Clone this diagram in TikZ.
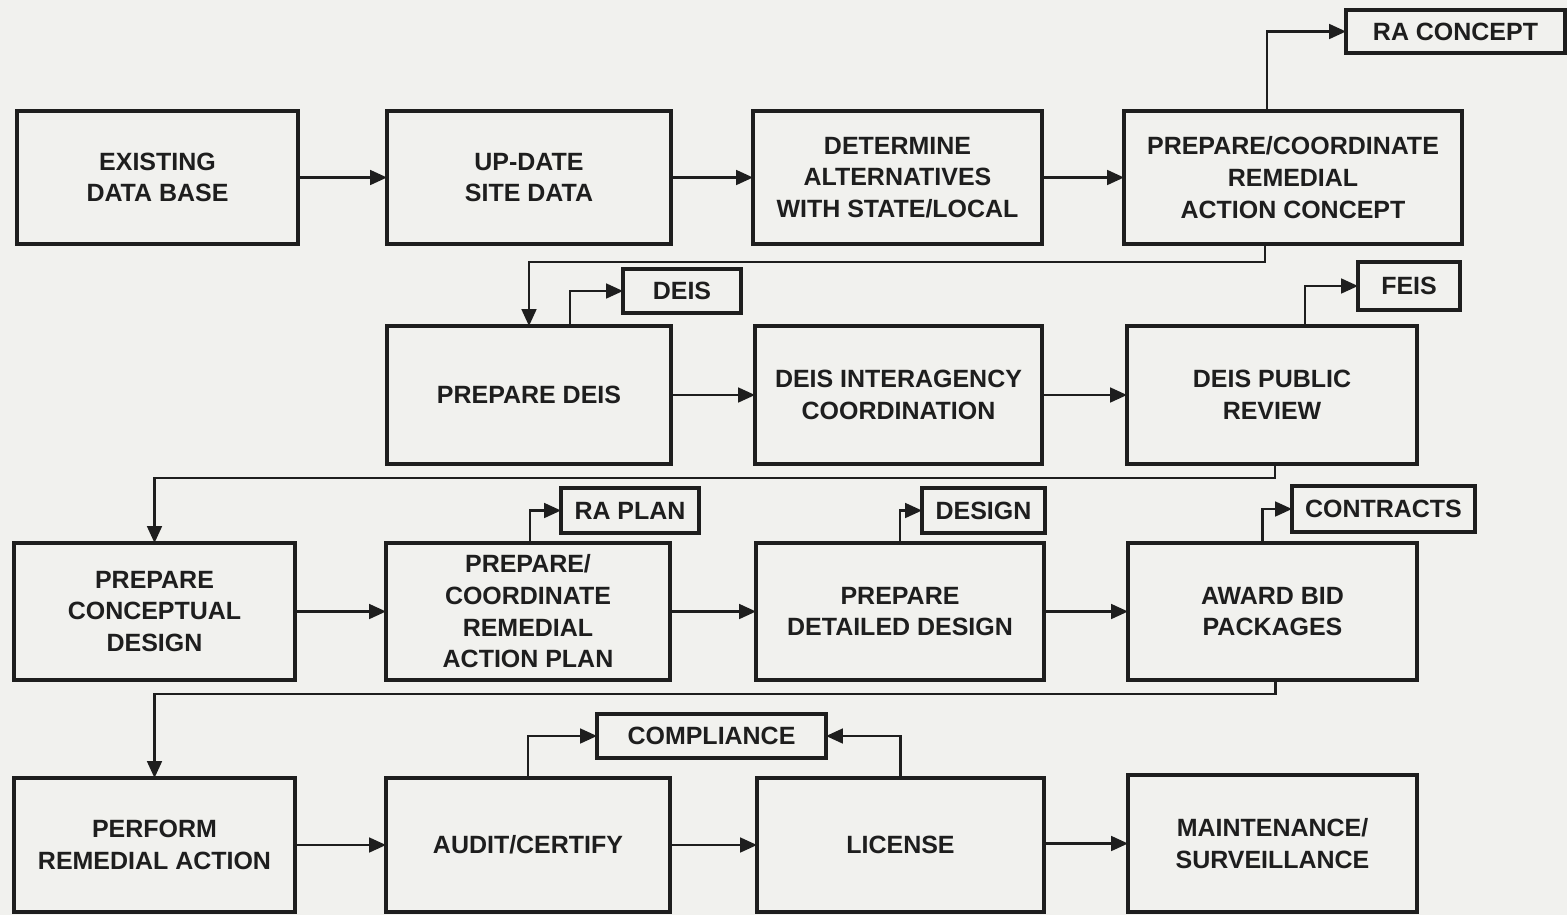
\documentclass[tikz,border=0pt]{standalone}
\usepackage{fontspec}
\setmainfont{Liberation Sans}
\usetikzlibrary{arrows.meta}
\definecolor{paper}{RGB}{241,241,238}
\definecolor{ink}{RGB}{30,30,30}
\begin{document}
\begin{tikzpicture}[x=0.01cm,y=-0.01cm,
  box/.style={draw=ink, line width=0.9pt, inner sep=0pt, outer sep=0pt, align=center,
    font=\fontsize{7.1}{9}\selectfont\bfseries, text=ink},
  arr/.style={draw=ink, line width=0.65pt, -{Triangle[length=4.8pt,width=4.2pt]}}]
\fill[paper] (0,0) rectangle (1567,915);
\useasboundingbox (0,0) rectangle (1567,915);
\newcommand\bx[6]{%
  \pgfmathsetmacro\bw{(#4-#2)*0.01}%
  \pgfmathsetmacro\bh{(#5-#3)*0.01}%
  \node[box, minimum width=\bw cm, minimum height=\bh cm] (#1) at ({(#2+#4)/2},{(#3+#5)/2}) {#6};}
% row 1
\bx{edb}{17}{111}{298}{244}{EXISTING\\DATA BASE}
\bx{usd}{387}{111}{671}{244}{UP-DATE\\SITE DATA}
\bx{dal}{753}{111}{1042}{244}{DETERMINE\\ALTERNATIVES\\WITH STATE/LOCAL}
\bx{pcc}{1124}{111}{1462}{244}{PREPARE/COORDINATE\\REMEDIAL\\ACTION CONCEPT}
\bx{rac}{1346}{10}{1565}{53}{RA CONCEPT}
% row 2
\bx{pde}{387}{326}{671}{464}{PREPARE DEIS}
\bx{deis}{623}{269}{741}{313}{DEIS}
\bx{dic}{755}{326}{1042}{464}{DEIS INTERAGENCY\\COORDINATION}
\bx{dpr}{1127}{326}{1417}{464}{DEIS PUBLIC\\REVIEW}
\bx{feis}{1358}{262}{1460}{310}{FEIS}
% row 3
\bx{pcd}{14}{543}{295}{680}{PREPARE\\CONCEPTUAL\\DESIGN}
\bx{pcp}{386}{543}{670}{680}{\fontsize{7.1}{8.2}\selectfont PREPARE/\\COORDINATE\\REMEDIAL\\ACTION PLAN}
\bx{rap}{561}{488}{699}{533}{RA PLAN}
\bx{pdd}{756}{543}{1044}{680}{PREPARE\\DETAILED DESIGN}
\bx{des}{922}{488}{1045}{533}{DESIGN}
\bx{abp}{1128}{543}{1417}{680}{AWARD BID\\PACKAGES}
\bx{con}{1292}{486}{1475}{532}{CONTRACTS}
% row 4
\bx{pra}{14}{778}{295}{912}{PERFORM\\REMEDIAL ACTION}
\bx{aud}{386}{778}{670}{912}{AUDIT/CERTIFY}
\bx{lic}{757}{778}{1044}{912}{LICENSE}
\bx{mai}{1128}{775}{1417}{912}{MAINTENANCE/\\SURVEILLANCE}
\bx{com}{597}{714}{826}{758}{COMPLIANCE}
% row 1 connectors
\draw[arr] (edb.east) -- (usd.west);
\draw[arr] (usd.east) -- (dal.west);
\draw[arr] (dal.east) -- (pcc.west);
\draw[arr] ([xshift=-0.26cm]pcc.north) |- (rac.west);
\draw[arr] ([xshift=-0.28cm]pcc.south) -- ++(0,18) -| (pde.north);
% row 2 connectors
\draw[arr] ([xshift=0.41cm]pde.north) |- (deis.west);
\draw[arr] (pde.east) -- (dic.west);
\draw[arr] (dic.east) -- (dpr.west);
\draw[arr] ([xshift=0.33cm]dpr.north) |- (feis.west);
\draw[arr] ([xshift=0.03cm]dpr.south) -- ++(0,14) -| (pcd.north);
% row 3 connectors
\draw[arr] (pcd.east) -- (pcp.west);
\draw[arr] (pcp.east) -- (pdd.west);
\draw[arr] (pdd.east) -- (abp.west);
\draw[arr] ([xshift=0.02cm]pcp.north) |- (rap.west);
\draw[arr] (pdd.north) |- (des.west);
\draw[arr] ([xshift=-0.10cm]abp.north) |- (con.west);
\draw[arr] ([xshift=0.03cm]abp.south) -- ++(0,14) -| (pra.north);
% row 4 connectors
\draw[arr] (pra.east) -- (aud.west);
\draw[arr] (aud.east) -- (lic.west);
\draw[arr] (lic.east |- mai.west) -- (mai.west);
\draw[arr] (aud.north) |- (com.west);
\draw[arr] (lic.north) |- (com.east);
\end{tikzpicture}
\end{document}
